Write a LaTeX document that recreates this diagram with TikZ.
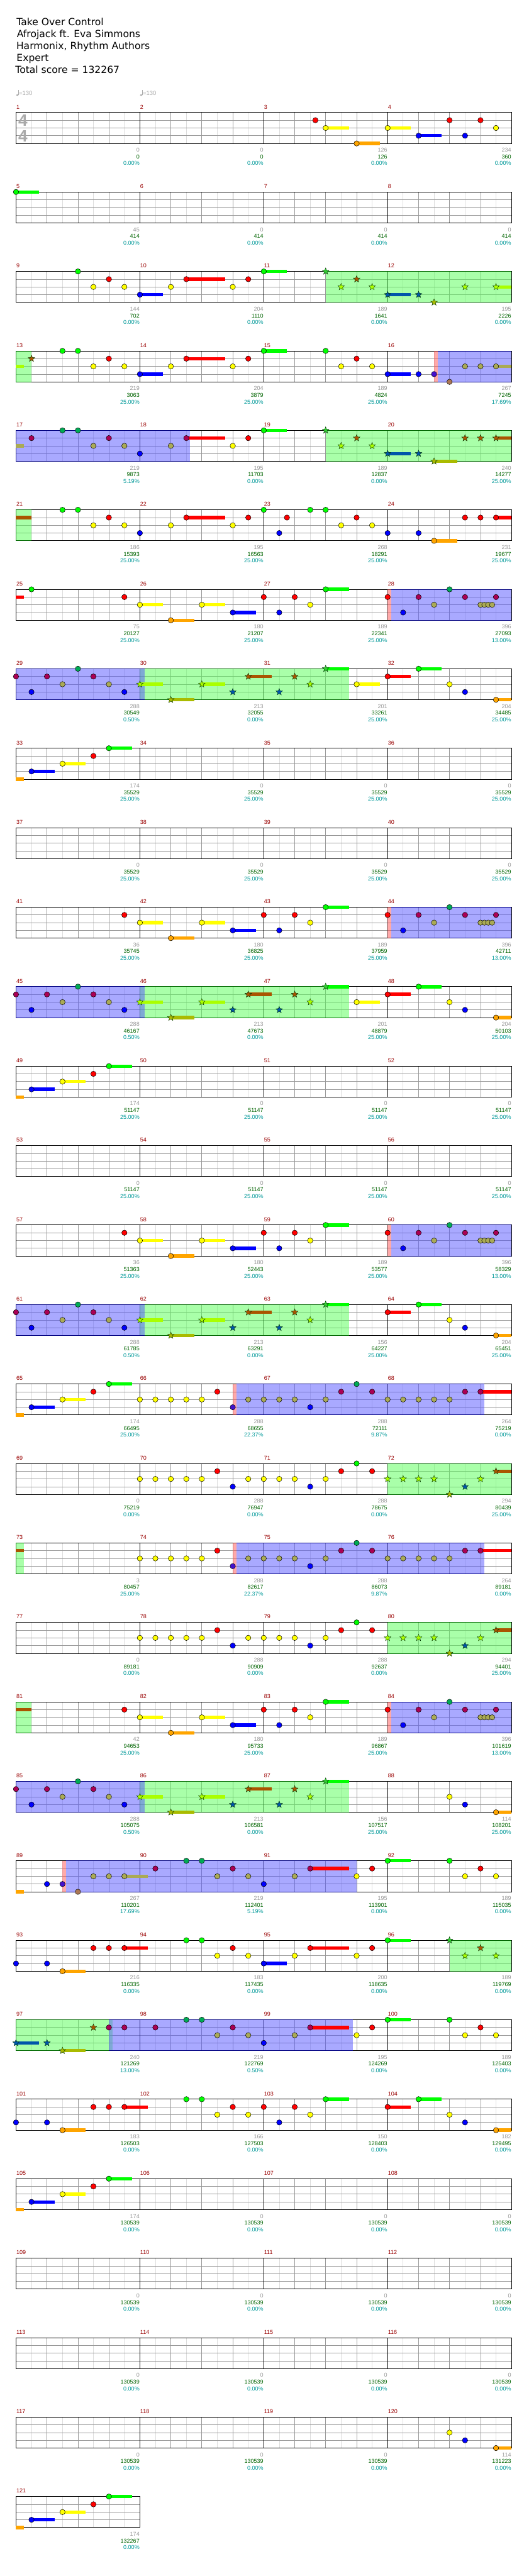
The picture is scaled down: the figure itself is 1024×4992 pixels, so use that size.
\documentclass[tikz,border=0pt]{standalone}
\usepackage{fontspec}
\setmainfont{Liberation Sans}
\newfontfamily\djv{DejaVu Sans}
\definecolor{cG}{HTML}{00FF00}
\definecolor{cR}{HTML}{FF0000}
\definecolor{cY}{HTML}{FFFF00}
\definecolor{cB}{HTML}{0000FF}
\definecolor{cO}{HTML}{FFA500}
\definecolor{sG}{HTML}{33CC33}
\definecolor{sR}{HTML}{AA5500}
\definecolor{sY}{HTML}{AAFF00}
\definecolor{sB}{HTML}{0055AA}
\definecolor{sO}{HTML}{AABB00}
\definecolor{oG}{HTML}{00AA55}
\definecolor{oR}{HTML}{AA0055}
\definecolor{oY}{HTML}{AAAA55}
\definecolor{oB}{HTML}{0000FF}
\definecolor{oO}{HTML}{AA7755}
\definecolor{pB}{HTML}{4411CC}
\definecolor{spfill}{HTML}{55FF55}
\definecolor{odfill}{HTML}{5555FF}
\definecolor{pkfill}{HTML}{FF5555}
\definecolor{spline}{HTML}{006600}
\definecolor{odline}{HTML}{000080}
\definecolor{numgray}{HTML}{999999}
\definecolor{numgreen}{HTML}{006400}
\definecolor{numteal}{HTML}{009999}
\definecolor{mred}{HTML}{990000}
\definecolor{gridq}{HTML}{999999}
\definecolor{gride}{HTML}{DDDDDD}
\definecolor{tgray}{HTML}{AAAAAA}
\newcommand\numfont{\fontsize{11}{13}\selectfont}
\tikzset{
  gl/.style={draw=gride, line width=0.9pt},
  gq/.style={draw=gridq, line width=0.9pt},
  gb/.style={draw=black, line width=0.9pt},
  gborder/.style={draw=black, line width=1.1pt},
  notestyle/.style={draw=black, line width=0.6pt},
  starstyle/.style={draw=black!80!green, line width=0.5pt},
  spf/.style={fill=spfill, fill opacity=0.5},
  odf/.style={fill=odfill, fill opacity=0.5},
  pkf/.style={fill=pkfill, fill opacity=0.5},
  spl/.style={draw=spline},
  odl/.style={draw=odline},
  mnum/.style={anchor=base west, inner sep=0pt, text=mred, font=\numfont},
  ng/.style={anchor=base east, inner sep=0pt, text=numgray, font=\numfont},
  nd/.style={anchor=base east, inner sep=0pt, text=numgreen, font=\numfont},
  nt/.style={anchor=base east, inner sep=0pt, text=numteal, font=\numfont},
  titlef/.style={anchor=base west, inner sep=0pt, font=\djv\fontsize{19}{23}\selectfont},
  tsig/.style={inner sep=0pt, text=tgray, font=\bfseries\fontsize{32}{34}\selectfont},
  tempof/.style={anchor=base west, inner sep=0pt, text=tgray, font=\fontsize{11.5}{13}\selectfont}
}
\newcommand\setpos[3]{\pgfmathsetmacro\px{31+mod((#1)-1,4)*240+(#2)*15}\pgfmathsetmacro\py{218+154*floor(((#1)-1)/4)+(#3)*15}}
\newcommand\starpath{(90:6.8pt) -- (126:2.9pt) -- (162:6.8pt) -- (198:2.9pt) -- (234:6.8pt) -- (270:2.9pt) -- (306:6.8pt) -- (342:2.9pt) -- (18:6.8pt) -- (54:2.9pt) -- cycle}
\newcommand\xNT[4]{\setpos{#1}{#2}{#3}\draw[notestyle,fill=#4] (\px,\py) circle[radius=5.2pt];}
\newcommand\xST[4]{\setpos{#1}{#2}{#3}\draw[starstyle,fill=#4,shift={(\px,\py)}] \starpath;}
\newcommand\xSU[5]{\setpos{#1}{#2}{#3}\draw[line width=6.5pt,#5] (\px,\py) -- ++({(#4)*15},0);}
\newcommand\xNS[5]{\xSU{#1}{#2}{#3}{#4}{#5}\xNT{#1}{#2}{#3}{#5}}
\newcommand\xSS[5]{\xSU{#1}{#2}{#3}{#4}{#5}\xST{#1}{#2}{#3}{#5}}
\newcommand\RGN[5]{\setpos{#1}{#2}{0}\pgfmathsetmacro\qx{\px+((#3)-(#2))*15}%
  \fill[#4] (\px,\py) rectangle (\qx,\py+60);%
  \draw[#5, line width=1.1pt] (\px,\py) -- (\qx,\py) (\px,\py+60) -- (\qx,\py+60);}
\newcommand\SPR[3]{\RGN{#1}{#2}{#3}{spf}{spl}}
\newcommand\ODR[3]{\RGN{#1}{#2}{#3}{odf}{odl}}
\newcommand\PKR[3]{\setpos{#1}{#2}{0}\pgfmathsetmacro\qx{\px+((#3)-(#2))*15}\fill[pkf] (\px,\py) rectangle (\qx,\py+60);}
\newcommand\MN[4]{\pgfmathsetmacro\qx{30.5+mod((#1)-1,4)*240+240}\pgfmathsetmacro\qy{218+154*floor(((#1)-1)/4)}%
  \node[ng] (na#1) at (\qx,\qy+76.5) {#2};%
  \node[nd] (nb#1) at (\qx,\qy+89.5) {#3};%
  \node[nt] (nc#1) at (\qx,\qy+102.5) {#4\%};}
\newcommand\rowgrid[2]{%
  \pgfmathsetmacro\Y{218+154*#1}%
  \pgfmathsetmacro\Xe{31+240*#2}%
  \pgfmathtruncatemacro\ne{8*#2-1}%
  \pgfmathtruncatemacro\nq{4*#2-1}%
  \foreach \k in {1,...,\ne}{\draw[gl] ({31+30*\k},\Y) -- ({31+30*\k},\Y+60);}%
  \foreach \k in {1,...,\nq}{\draw[gq] ({31+60*\k},\Y) -- ({31+60*\k},\Y+60);}%
  \foreach \k in {1,2,3}{\draw[gq] (31,\Y+15*\k) -- (\Xe,\Y+15*\k);}%
  \ifnum#2>1 \pgfmathtruncatemacro\nb{#2-1}\foreach \k in {1,...,\nb}{\draw[gb] ({31+240*\k},\Y) -- ({31+240*\k},\Y+60);}\fi
  \draw[gborder] (31,\Y) rectangle (\Xe,\Y+60);%
  \foreach \k in {1,...,#2}{\pgfmathtruncatemacro\mm{4*#1+\k}\node[mnum] (mnum\mm) at ({31.5+240*(\k-1)},\Y-7) {\mm};}%
}
% repeated patterns
\newcommand\pA[1]{\xNS{#1}{0}{2}{3}{cY}\xNS{#1}{4}{4}{3}{cO}\xNS{#1}{8}{2}{3}{cY}\xNS{#1}{12}{3}{3}{cB}}
\newcommand\pB[1]{\xNT{#1}{0}{1}{cR}\xNT{#1}{2}{3}{cB}\xNT{#1}{4}{1}{cR}\xNT{#1}{6}{2}{cY}\xNS{#1}{8}{0}{3}{cG}}
\newcommand\pC[1]{\PKR{#1}{0}{0.5}\ODR{#1}{0.5}{16}%
  \xNT{#1}{0}{1}{cR}\xNT{#1}{2}{3}{oB}\xNT{#1}{4}{1}{oR}\xNT{#1}{6}{2}{oY}\xNT{#1}{8}{0}{oG}\xNT{#1}{10}{1}{oR}%
  \xNT{#1}{12}{2}{oY}\xNT{#1}{12.5}{2}{oY}\xNT{#1}{13}{2}{oY}\xNT{#1}{13.5}{2}{oY}\xNT{#1}{14}{1}{oR}}
\newcommand\pD[1]{\SPR{#1+1}{0}{27}\ODR{#1}{0}{16.6}%
  \xNT{#1}{0}{1}{oR}\xNT{#1}{2}{3}{oB}\xNT{#1}{4}{1}{oR}\xNT{#1}{6}{2}{oY}\xNT{#1}{8}{0}{oG}\xNT{#1}{10}{1}{oR}\xNT{#1}{12}{2}{oY}\xNT{#1}{14}{3}{oB}%
  \xSS{#1+1}{0}{2}{3}{sY}\xSS{#1+1}{4}{4}{3}{sO}\xSS{#1+1}{8}{2}{3}{sY}\xST{#1+1}{12}{3}{sB}\xSS{#1+1}{14}{1}{3}{sR}%
  \xST{#1+2}{2}{3}{sB}\xST{#1+2}{4}{1}{sR}\xST{#1+2}{6}{2}{sY}\xSU{#1+2}{8}{0}{3}{cG}\xST{#1+2}{8}{0}{sG}}
\newcommand\pE[1]{\xNS{#1}{0}{1}{3}{cR}\xNS{#1}{4}{0}{3}{cG}\xNT{#1}{8}{2}{cY}\xNT{#1}{10}{3}{cB}\xNS{#1}{14}{4}{2}{cO}}
\newcommand\pF[1]{\xSU{#1}{0}{4}{1}{cO}\xNS{#1}{2}{3}{3}{cB}\xNS{#1}{6}{2}{3}{cY}\xNT{#1}{10}{1}{cR}\xNS{#1}{12}{0}{3}{cG}}
\newcommand\pG[1]{\PKR{#1}{12}{12.5}\ODR{#1}{12.5}{44.5}%
  \xNT{#1}{0}{2}{cY}\xNT{#1}{2}{2}{cY}\xNT{#1}{4}{2}{cY}\xNT{#1}{6}{2}{cY}\xNT{#1}{8}{2}{cY}\xNT{#1}{10}{1}{cR}\xNT{#1}{12}{3}{pB}\xNT{#1}{14}{2}{oY}%
  \xNT{#1+1}{0}{2}{oY}\xNT{#1+1}{2}{2}{oY}\xNT{#1+1}{4}{2}{oY}\xNT{#1+1}{6}{3}{oB}\xNT{#1+1}{8}{2}{oY}\xNT{#1+1}{10}{1}{oR}\xNT{#1+1}{12}{0}{oG}\xNT{#1+1}{14}{1}{oR}%
  \xNT{#1+2}{0}{2}{oY}\xNT{#1+2}{2}{2}{oY}\xNT{#1+2}{4}{2}{oY}\xNT{#1+2}{6}{2}{oY}\xNT{#1+2}{8}{2}{oY}\xNT{#1+2}{10}{1}{oR}\xSU{#1+2}{12}{1}{4}{cR}\xNT{#1+2}{12}{1}{oR}}
\newcommand\pH[1]{%
  \xNT{#1}{0}{2}{cY}\xNT{#1}{2}{2}{cY}\xNT{#1}{4}{2}{cY}\xNT{#1}{6}{2}{cY}\xNT{#1}{8}{2}{cY}\xNT{#1}{10}{1}{cR}\xNT{#1}{12}{3}{cB}\xNT{#1}{14}{2}{cY}%
  \xNT{#1+1}{0}{2}{cY}\xNT{#1+1}{2}{2}{cY}\xNT{#1+1}{4}{2}{cY}\xNT{#1+1}{6}{3}{cB}\xNT{#1+1}{8}{2}{cY}\xNT{#1+1}{10}{1}{cR}\xNT{#1+1}{12}{0}{cG}\xNT{#1+1}{14}{1}{cR}%
  \SPR{#1+2}{0}{16}%
  \xST{#1+2}{0}{2}{sY}\xST{#1+2}{2}{2}{sY}\xST{#1+2}{4}{2}{sY}\xST{#1+2}{6}{2}{sY}\xST{#1+2}{8}{4}{sO}\xST{#1+2}{10}{3}{sB}\xST{#1+2}{12}{2}{sY}\xSS{#1+2}{14}{1}{2}{sR}}
% riff A bars
\newcommand\aOne[1]{\xNT{#1}{6}{0}{cG}\xNT{#1}{8}{0}{cG}\xNT{#1}{10}{2}{cY}\xNT{#1}{12}{1}{cR}\xNT{#1}{14}{2}{cY}}
\newcommand\aTwo[1]{\xNS{#1}{0}{3}{3}{cB}\xNT{#1}{4}{2}{cY}\xNS{#1}{6}{1}{5}{cR}\xNT{#1}{12}{2}{cY}\xNT{#1}{14}{1}{cR}}
\newcommand\aThree[1]{\xNS{#1}{0}{0}{3}{cG}\xNT{#1}{8}{0}{cG}\xNT{#1}{10}{2}{cY}\xNT{#1}{12}{1}{cR}\xNT{#1}{14}{2}{cY}}
\newcommand\aFour[1]{\xNT{#1}{0}{3}{cB}\xNT{#1}{4}{3}{cB}\xNS{#1}{6}{4}{3}{cO}\xNT{#1}{10}{1}{cR}\xNT{#1}{12}{1}{cR}\xNS{#1}{14}{1}{3}{cR}}
\begin{document}
\begin{tikzpicture}[x=1pt,y=-1pt]
\useasboundingbox (0,0) rectangle (1024,4992);
\fill[white] (0,0) rectangle (1024,4992);
% title
\node[titlef] (t1) at (32,49.3) {Take Over Control};
\node[titlef] (t2) at (32.5,72.4) {Afrojack ft. Eva Simmons};
\node[titlef] (t3) at (31.5,95.5) {Harmonix, Rhythm Authors};
\node[titlef] (t4) at (32,118.5) {Expert};
\node[titlef] (t5) at (29.5,141.7) {Total score = 132267};
% tempo marks
\foreach \tx/\tn in {31/a,271/b}{
  \fill[tgray] (\tx+2.5,184.3) ellipse[x radius=2.4pt, y radius=1.8pt];
  \draw[tgray, line width=0.7pt] (\tx+4.6,184) -- (\tx+4.6,174);
  \node[tempof] (tempo\tn) at (\tx+5.6,185) {=130};
}
% grids
\foreach \r in {0,...,29}{\rowgrid{\r}{4}}
\rowgrid{30}{1}
% time signature
\node[tsig] (ts1) at (44.5,233.5) {4};
\node[tsig] (ts2) at (44.5,263.5) {4};
% ---- row 0
\xNT{3}{6.67}{1}{cR}\xNS{3}{8}{2}{3}{cY}\xNS{3}{12}{4}{3}{cO}
\xNS{4}{0}{2}{3}{cY}\xNS{4}{4}{3}{3}{cB}\xNT{4}{8}{1}{cR}\xNT{4}{10}{3}{cB}\xNT{4}{12}{1}{cR}\xNT{4}{14}{2}{cY}
% ---- row 1
\xNS{5}{0}{0}{3}{cG}
% ---- row 2
\xNT{9}{8}{0}{cG}\xNT{9}{10}{2}{cY}\xNT{9}{12}{1}{cR}\xNT{9}{14}{2}{cY}
\aTwo{10}
\SPR{11}{8}{32}
\xNS{11}{0}{0}{3}{cG}
\xST{11}{8}{0}{sG}\xST{11}{10}{2}{sY}\xST{11}{12}{1}{sR}\xST{11}{14}{2}{sY}
\xSS{12}{0}{3}{3}{sB}\xST{12}{4}{3}{sB}\xST{12}{6}{4}{sO}\xST{12}{10}{2}{sY}\xSS{12}{14}{2}{2}{sY}
% ---- row 3
\SPR{13}{0}{2}
\xSU{13}{0}{2}{1}{sY}\xST{13}{2}{1}{sR}
\aOne{13}\aTwo{14}\aThree{15}
\PKR{16}{6}{6.5}\ODR{16}{6.5}{16}
\xNS{16}{0}{3}{3}{cB}\xNT{16}{4}{3}{cB}\xNT{16}{6}{3}{pB}\xNT{16}{8}{4}{oO}\xNT{16}{10}{2}{oY}\xNT{16}{12}{2}{oY}\xNS{16}{14}{2}{2}{oY}
% ---- row 4
\ODR{17}{0}{22.5}
\xSU{17}{0}{2}{1}{oY}
\xNT{17}{2}{1}{oR}\xNT{17}{6}{0}{oG}\xNT{17}{8}{0}{oG}\xNT{17}{10}{2}{oY}\xNT{17}{12}{1}{oR}\xNT{17}{14}{2}{oY}
\xNT{18}{0}{3}{oB}\xNT{18}{4}{2}{oY}\xSU{18}{6}{1}{5}{cR}\xNT{18}{6}{1}{oR}\xNT{18}{12}{2}{cY}\xNT{18}{14}{1}{cR}
\SPR{19}{8}{32}
\xNS{19}{0}{0}{3}{cG}
\xST{19}{8}{0}{sG}\xST{19}{10}{2}{sY}\xST{19}{12}{1}{sR}\xST{19}{14}{2}{sY}
\xSS{20}{0}{3}{3}{sB}\xST{20}{4}{3}{sB}\xSS{20}{6}{4}{3}{sO}\xST{20}{10}{1}{sR}\xST{20}{12}{1}{sR}\xSS{20}{14}{1}{2}{sR}
% ---- row 5
\SPR{21}{0}{2}
\xSU{21}{0}{1}{2}{sR}
\aOne{21}
\xNT{22}{0}{3}{cB}\xNT{22}{4}{2}{cY}\xNS{22}{6}{1}{5}{cR}\xNT{22}{12}{2}{cY}\xNT{22}{14}{1}{cR}
\xNT{23}{0}{0}{cG}\xNT{23}{2}{3}{cB}\xNT{23}{3}{1}{cR}\aOne{23}
\xNT{24}{0}{3}{cB}\xNT{24}{4}{3}{cB}\xNS{24}{6}{4}{3}{cO}\xNT{24}{10}{1}{cR}\xNT{24}{12}{1}{cR}\xNS{24}{14}{1}{2}{cR}
% ---- row 6
\xSU{25}{0}{1}{1}{cR}\xNT{25}{2}{0}{cG}\xNT{25}{14}{1}{cR}
\pA{26}\pB{27}\pC{28}
% ---- row 7
\pD{29}\xNS{31}{12}{2}{3}{cY}\pE{32}
% ---- row 8
\pF{33}
% ---- row 10
\xNT{41}{14}{1}{cR}\pA{42}\pB{43}\pC{44}
% ---- row 11
\pD{45}\xNS{47}{12}{2}{3}{cY}\pE{48}
% ---- row 12
\pF{49}
% ---- row 14
\xNT{57}{14}{1}{cR}\pA{58}\pB{59}\pC{60}
% ---- row 15
\pD{61}\pE{64}
% ---- row 16
\pF{65}\pG{66}
% ---- row 17
\pH{70}
% ---- row 18
\SPR{73}{0}{1}\xSU{73}{0}{1}{1}{sR}\pG{74}
% ---- row 19
\pH{78}
% ---- row 20
\SPR{81}{0}{2}\xSU{81}{0}{1}{2}{sR}\xNT{81}{14}{1}{cR}\pA{82}\pB{83}\pC{84}
% ---- row 21
\pD{85}\xNT{88}{8}{2}{cY}\xNT{88}{10}{3}{cB}\xNS{88}{14}{4}{2}{cO}
% ---- row 22
\PKR{89}{6}{6.5}\ODR{89}{6.5}{44}
\xSU{89}{0}{4}{1}{cO}\xNT{89}{4}{3}{cB}\xNT{89}{6}{3}{pB}\xNT{89}{8}{4}{oO}\xNT{89}{10}{2}{oY}\xNT{89}{12}{2}{oY}\xNS{89}{14}{2}{3}{oY}
\xNT{90}{2}{1}{oR}\xNT{90}{6}{0}{oG}\xNT{90}{8}{0}{oG}\xNT{90}{10}{2}{oY}\xNT{90}{12}{1}{oR}\xNT{90}{14}{2}{oY}
\xNT{91}{0}{3}{oB}\xNT{91}{4}{2}{oY}\xSU{91}{6}{1}{5}{cR}\xNT{91}{6}{1}{oR}\xNT{91}{12}{2}{cY}\xNT{91}{14}{1}{cR}
\aThree{92}
% ---- row 23
\aFour{93}\aOne{94}\aTwo{95}
\SPR{96}{8}{16}
\xNS{96}{0}{0}{3}{cG}\xST{96}{8}{0}{sG}\xST{96}{10}{2}{sY}\xST{96}{12}{1}{sR}\xST{96}{14}{2}{sY}
% ---- row 24
\SPR{97}{0}{12.5}\ODR{97}{12}{43.5}
\xSS{97}{0}{3}{3}{sB}\xST{97}{4}{3}{sB}\xSS{97}{6}{4}{3}{sO}\xST{97}{10}{1}{sR}\xNT{97}{12}{1}{oR}\xNT{97}{14}{1}{oR}
\xNT{98}{2}{1}{oR}\xNT{98}{6}{0}{oG}\xNT{98}{8}{0}{oG}\xNT{98}{10}{2}{oY}\xNT{98}{12}{1}{oR}\xNT{98}{14}{2}{oY}
\xNT{99}{0}{3}{oB}\xNT{99}{4}{2}{oY}\xSU{99}{6}{1}{5}{cR}\xNT{99}{6}{1}{oR}\xNT{99}{12}{2}{cY}\xNT{99}{14}{1}{cR}
\aThree{100}
% ---- row 25
\aFour{101}\aOne{102}\pB{103}\pE{104}
% ---- row 26
\pF{105}
% ---- row 29
\xNT{120}{8}{2}{cY}\xNT{120}{10}{3}{cB}\xNS{120}{14}{4}{2}{cO}
% ---- row 30
\pF{121}
% ---- numbers
\MN{1}{0}{0}{0.00}\MN{2}{0}{0}{0.00}\MN{3}{126}{126}{0.00}\MN{4}{234}{360}{0.00}
\MN{5}{45}{414}{0.00}\MN{6}{0}{414}{0.00}\MN{7}{0}{414}{0.00}\MN{8}{0}{414}{0.00}
\MN{9}{144}{702}{0.00}\MN{10}{204}{1110}{0.00}\MN{11}{189}{1641}{0.00}\MN{12}{195}{2226}{0.00}
\MN{13}{219}{3063}{25.00}\MN{14}{204}{3879}{25.00}\MN{15}{189}{4824}{25.00}\MN{16}{267}{7245}{17.69}
\MN{17}{219}{9873}{5.19}\MN{18}{195}{11703}{0.00}\MN{19}{189}{12837}{0.00}\MN{20}{240}{14277}{25.00}
\MN{21}{186}{15393}{25.00}\MN{22}{195}{16563}{25.00}\MN{23}{268}{18291}{25.00}\MN{24}{231}{19677}{25.00}
\MN{25}{75}{20127}{25.00}\MN{26}{180}{21207}{25.00}\MN{27}{189}{22341}{25.00}\MN{28}{396}{27093}{13.00}
\MN{29}{288}{30549}{0.50}\MN{30}{213}{32055}{0.00}\MN{31}{201}{33261}{25.00}\MN{32}{204}{34485}{25.00}
\MN{33}{174}{35529}{25.00}\MN{34}{0}{35529}{25.00}\MN{35}{0}{35529}{25.00}\MN{36}{0}{35529}{25.00}
\MN{37}{0}{35529}{25.00}\MN{38}{0}{35529}{25.00}\MN{39}{0}{35529}{25.00}\MN{40}{0}{35529}{25.00}
\MN{41}{36}{35745}{25.00}\MN{42}{180}{36825}{25.00}\MN{43}{189}{37959}{25.00}\MN{44}{396}{42711}{13.00}
\MN{45}{288}{46167}{0.50}\MN{46}{213}{47673}{0.00}\MN{47}{201}{48879}{25.00}\MN{48}{204}{50103}{25.00}
\MN{49}{174}{51147}{25.00}\MN{50}{0}{51147}{25.00}\MN{51}{0}{51147}{25.00}\MN{52}{0}{51147}{25.00}
\MN{53}{0}{51147}{25.00}\MN{54}{0}{51147}{25.00}\MN{55}{0}{51147}{25.00}\MN{56}{0}{51147}{25.00}
\MN{57}{36}{51363}{25.00}\MN{58}{180}{52443}{25.00}\MN{59}{189}{53577}{25.00}\MN{60}{396}{58329}{13.00}
\MN{61}{288}{61785}{0.50}\MN{62}{213}{63291}{0.00}\MN{63}{156}{64227}{25.00}\MN{64}{204}{65451}{25.00}
\MN{65}{174}{66495}{25.00}\MN{66}{288}{68655}{22.37}\MN{67}{288}{72111}{9.87}\MN{68}{264}{75219}{0.00}
\MN{69}{0}{75219}{0.00}\MN{70}{288}{76947}{0.00}\MN{71}{288}{78675}{0.00}\MN{72}{294}{80439}{25.00}
\MN{73}{3}{80457}{25.00}\MN{74}{288}{82617}{22.37}\MN{75}{288}{86073}{9.87}\MN{76}{264}{89181}{0.00}
\MN{77}{0}{89181}{0.00}\MN{78}{288}{90909}{0.00}\MN{79}{288}{92637}{0.00}\MN{80}{294}{94401}{25.00}
\MN{81}{42}{94653}{25.00}\MN{82}{180}{95733}{25.00}\MN{83}{189}{96867}{25.00}\MN{84}{396}{101619}{13.00}
\MN{85}{288}{105075}{0.50}\MN{86}{213}{106581}{0.00}\MN{87}{156}{107517}{25.00}\MN{88}{114}{108201}{25.00}
\MN{89}{267}{110201}{17.69}\MN{90}{219}{112401}{5.19}\MN{91}{195}{113901}{0.00}\MN{92}{189}{115035}{0.00}
\MN{93}{216}{116335}{0.00}\MN{94}{183}{117435}{0.00}\MN{95}{200}{118635}{0.00}\MN{96}{189}{119769}{0.00}
\MN{97}{240}{121269}{13.00}\MN{98}{219}{122769}{0.50}\MN{99}{195}{124269}{0.00}\MN{100}{189}{125403}{0.00}
\MN{101}{183}{126503}{0.00}\MN{102}{166}{127503}{0.00}\MN{103}{150}{128403}{0.00}\MN{104}{182}{129495}{0.00}
\MN{105}{174}{130539}{0.00}\MN{106}{0}{130539}{0.00}\MN{107}{0}{130539}{0.00}\MN{108}{0}{130539}{0.00}
\MN{109}{0}{130539}{0.00}\MN{110}{0}{130539}{0.00}\MN{111}{0}{130539}{0.00}\MN{112}{0}{130539}{0.00}
\MN{113}{0}{130539}{0.00}\MN{114}{0}{130539}{0.00}\MN{115}{0}{130539}{0.00}\MN{116}{0}{130539}{0.00}
\MN{117}{0}{130539}{0.00}\MN{118}{0}{130539}{0.00}\MN{119}{0}{130539}{0.00}\MN{120}{114}{131223}{0.00}
\MN{121}{174}{132267}{0.00}
\end{tikzpicture}
\end{document}
